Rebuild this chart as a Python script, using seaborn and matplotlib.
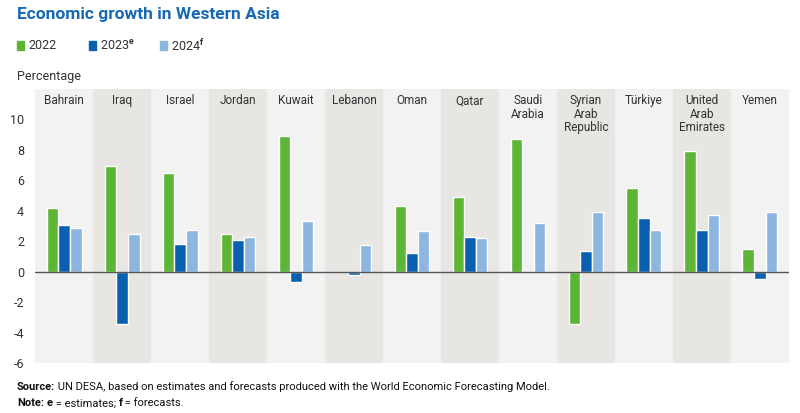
import numpy as np
import pandas as pd
import seaborn as sns
import matplotlib.pyplot as plt

# Data
countries = ['Bahrain', 'Iraq', 'Israel', 'Jordan', 'Kuwait', 'Lebanon', 'Oman', 'Qatar',
             'Saudi\nArabia', 'Syrian\nArab\nRepublic', 'Türkiye', 'United\nArab\nEmirates', 'Yemen']
g2022 = [4.2, 6.95, 6.5, 2.5, 8.9, np.nan, 4.3, 4.9, 8.7, -3.45, 5.5, 7.9, 1.5]
g2023 = [3.05, -3.45, 1.8, 2.1, -0.68, -0.2, 1.25, 2.3, np.nan, 1.35, 3.5, 2.7, -0.5]
g2024 = [2.85, 2.5, 2.75, 2.3, 3.3, 1.75, 2.65, 2.2, 3.2, 3.9, 2.7, 3.7, 3.9]
series = ['2022', '2023', '2024']
yticks = [-6, -4, -2, 0, 2, 4, 6, 8, 10]

df = pd.DataFrame({'country': countries, '2022': g2022, '2023': g2023, '2024': g2024})
df_long = df.melt(id_vars='country', var_name='year', value_name='growth')

sns.set_style('white')
plt.rcParams['font.family'] = ['Roboto', 'DejaVu Sans']
plt.rcParams['mathtext.fontset'] = 'custom'
plt.rcParams['mathtext.rm'] = 'Roboto'
plt.rcParams['mathtext.bf'] = 'Roboto:bold'

colors = ['#5cb535', '#0a60b0', '#8cb5e0']

fig = plt.figure(figsize=(8, 4.13), dpi=100)
ax = fig.add_axes([0.044, 0.121, 0.942, 0.664])

# alternating column bands
for i in range(len(countries)):
    ax.axvspan(i - 0.5, i + 0.5, color='#f2f2f2' if i % 2 == 0 else '#e8e6e3', zorder=0, lw=0)

sns.barplot(data=df_long, x='country', y='growth', hue='year', hue_order=series,
            palette=colors, width=0.6, saturation=1, legend=False, ax=ax, zorder=3)

ax.axhline(0, color='#555555', lw=1, zorder=4)
ax.set_xlim(-0.5, len(countries) - 0.5)
ax.set_ylim(-6, 12)
ax.set_yticks(yticks)
ax.set_yticklabels([str(t) for t in yticks], fontsize=9, color='#333333')
ax.tick_params(axis='y', length=0, pad=8)
ax.set_xticks([])
ax.set_xlabel('')
ax.set_ylabel('')
for s in ax.spines.values():
    s.set_visible(False)

# country names at the top of each band
for i, c in enumerate(countries):
    ax.text(i, 11.65, c, ha='center', va='top', fontsize=8.5, color='#333333', linespacing=1.05)

# title, legend, axis caption
fig.text(0.021, 0.965, 'Economic growth in Western Asia', fontsize=12.5, fontweight='bold',
         color='#1769b3', va='center')
legend_items = [('2022', ''), ('2023', 'e'), ('2024', 'f')]
lx = [0.021, 0.111, 0.2]
for x, (lab, sup), col in zip(lx, legend_items, colors):
    fig.patches.append(plt.Rectangle((x, 0.878), 0.009, 0.022, transform=fig.transFigure,
                                     color=col, figure=fig))
    txt = lab + (r'$^{\mathbf{' + sup + '}}$' if sup else '')
    fig.text(x + 0.014, 0.889, txt, fontsize=9, color='#333333', va='center')
fig.text(0.021, 0.814, 'Percentage', fontsize=9, color='#333333', va='center')

# footnotes: mixed bold / regular pieces chained one after another
def chain(y, parts):
    prev = fig.text(0.021, y, parts[0][0], fontsize=8, color='#111111', va='baseline',
                    fontweight='bold' if parts[0][1] else 'normal')
    for txt, bold in parts[1:]:
        prev = ax.annotate(txt, xy=(1, 0), xycoords=prev, xytext=(0, 0), textcoords='offset points',
                           fontsize=8, color='#111111', va='bottom', ha='left',
                           fontweight='bold' if bold else 'normal', annotation_clip=False)

chain(0.055, [('Source:', True),
              (' UN DESA, based on estimates and forecasts produced with the World Economic Forecasting Model.', False)])
chain(0.016, [('Note:', True), (' ', False), ('e', True), (' = estimates; ', False), ('f', True),
              (' = forecasts.', False)])

fig.savefig('out.png', dpi=100)
